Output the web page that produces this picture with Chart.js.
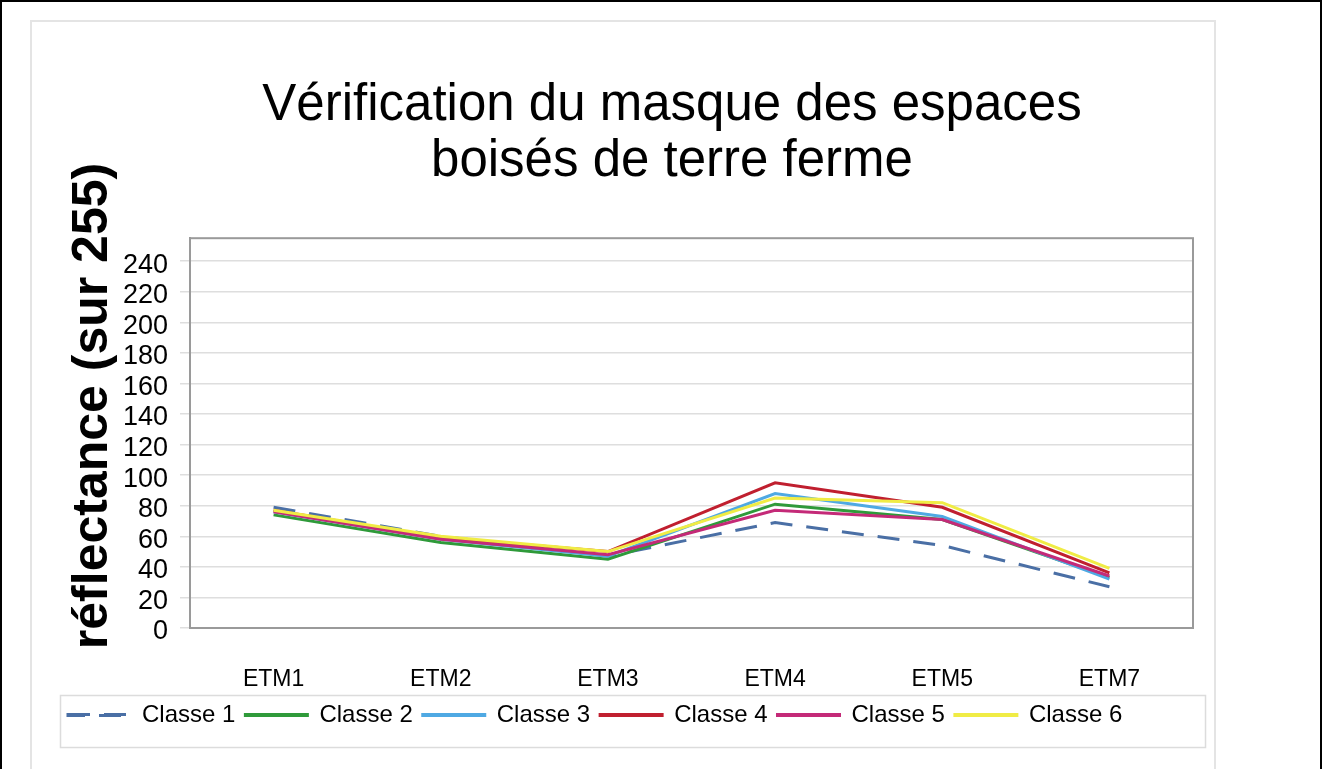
<!DOCTYPE html>
<html>
<head>
<meta charset="utf-8">
<script src="https://cdn.jsdelivr.net/npm/chart.js@4/dist/chart.umd.min.js"></script>
<style>
  html, body { margin: 0; padding: 0; background: #ffffff; }
  #wrap { width: 1322px; height: 769px; position: relative; }
</style>
</head>
<body>
<div id="wrap"><canvas id="c" width="1322" height="769"></canvas></div>
<script>
// ---- data ----
const categories = ['ETM1', 'ETM2', 'ETM3', 'ETM4', 'ETM5', 'ETM7'];
const seriesNames = ['Classe 1', 'Classe 2', 'Classe 3', 'Classe 4', 'Classe 5', 'Classe 6'];
const classe1 = [79, 60, 47, 69, 54, 27];
const classe2 = [74, 56, 45, 81, 71, 33];
const classe3 = [76, 58, 47, 88, 73, 32];
const classe4 = [77, 59, 50, 95, 79, 36];
const classe5 = [76, 58, 48, 77, 71, 34];
const classe6 = [77, 60, 50, 85, 82, 39];
const titleLines = ['Vérification du masque des espaces', 'boisés de terre ferme'];
const yAxisTitle = 'réflectance (sur 255)';
const yMin = 0, yMax = 255, yStep = 20;

// ---- styles ----
const FONT = '"Liberation Sans", Arial, Helvetica, sans-serif';
const colors = ['#4a6fa5', '#2f9a3a', '#4fa9e3', '#c01f2f', '#c42a78', '#f0ec45'];
const allValues = [classe1, classe2, classe3, classe4, classe5, classe6];

const datasets = allValues.map((vals, i) => ({
  label: seriesNames[i],
  data: vals,
  borderColor: colors[i],
  backgroundColor: colors[i],
  borderWidth: 3,
  borderDash: i === 0 ? [22, 14] : [],
  pointRadius: 0,
  pointHoverRadius: 0,
  tension: 0,
  fill: false,
  order: allValues.length - i
}));

const framePlugin = {
  id: 'frame',
  beforeDraw(chart) {
    const ctx = chart.ctx;
    ctx.save();
    ctx.fillStyle = '#ffffff';
    ctx.fillRect(0, 0, chart.width, chart.height);
    // inner panel
    ctx.strokeStyle = '#e4e4e4';
    ctx.lineWidth = 2;
    ctx.strokeRect(31, 21, 1184, 760);
    // legend box
    ctx.strokeStyle = '#dcdcdc';
    ctx.lineWidth = 1.5;
    ctx.strokeRect(60.5, 695.5, 1145, 52);
    // outer black frame (top, left, right)
    ctx.strokeStyle = '#000000';
    ctx.lineWidth = 2;
    ctx.beginPath();
    ctx.moveTo(1, 769); ctx.lineTo(1, 1); ctx.lineTo(1321, 1); ctx.lineTo(1321, 769);
    ctx.stroke();
    ctx.restore();
  },
  afterDraw(chart) {
    const ctx = chart.ctx;
    const a = chart.chartArea;
    ctx.save();
    // plot area border
    ctx.strokeStyle = '#9a9a9a';
    ctx.lineWidth = 2;
    ctx.strokeRect(a.left, a.top, a.right - a.left, a.bottom - a.top);
    // y axis title
    ctx.translate(93, 406);
    ctx.rotate(-Math.PI / 2);
    ctx.font = 'bold 50px ' + FONT;
    ctx.fillStyle = '#000000';
    ctx.textAlign = 'center';
    ctx.textBaseline = 'middle';
    ctx.fillText(yAxisTitle, 0, 0);
    ctx.restore();
  }
};

new Chart(document.getElementById('c'), {
  type: 'line',
  data: { labels: categories, datasets: datasets },
  options: {
    responsive: false,
    animation: false,
    devicePixelRatio: 1,
    layout: { padding: { top: 0, left: 58, right: 36, bottom: 32 } },
    plugins: {
      tooltip: { enabled: false },
      title: {
        display: true,
        text: titleLines,
        color: '#000000',
        font: { family: FONT, size: 51, weight: 'normal', lineHeight: 1.1 },
        padding: { top: 78, bottom: 48 }
      },
      legend: {
        display: true,
        position: 'bottom',
        align: 'start',
        labels: {
          boxWidth: 62,
          boxHeight: 1,
          padding: 10,
          color: '#000000',
          font: { family: FONT, size: 24 },
          sort: (a, b) => a.datasetIndex - b.datasetIndex,
          generateLabels(chart) {
            const items = Chart.defaults.plugins.legend.labels.generateLabels(chart);
            items.forEach(it => { it.fillStyle = 'rgba(0,0,0,0)'; it.lineWidth = 3; });
            return items;
          }
        }
      }
    },
    scales: {
      x: {
        offset: true,
        grid: { display: false },
        border: { display: true, color: '#9a9a9a', width: 2 },
        ticks: { color: '#000000', font: { family: FONT, size: 23 }, padding: 30, maxRotation: 0 },
        afterFit(scale) { scale.height = 65; }
      },
      y: {
        min: yMin,
        max: yMax,
        grid: { color: '#dedede', lineWidth: 1.5, tickLength: 10, drawTicks: true },
        border: { display: true, color: '#9a9a9a', width: 2 },
        ticks: { stepSize: yStep, includeBounds: false, autoSkip: false, labelOffset: 4, color: '#000000', font: { family: FONT, size: 27, lineHeight: 1 }, padding: 12 },
        afterFit(scale) { scale.width = 132; }
      },
      yRight: {
        position: 'right',
        display: true,
        grid: { display: false },
        border: { display: false },
        ticks: { display: false },
        afterFit(scale) { scale.width = 93; }
      }
    }
  },
  plugins: [framePlugin]
});
</script>
</body>
</html>
